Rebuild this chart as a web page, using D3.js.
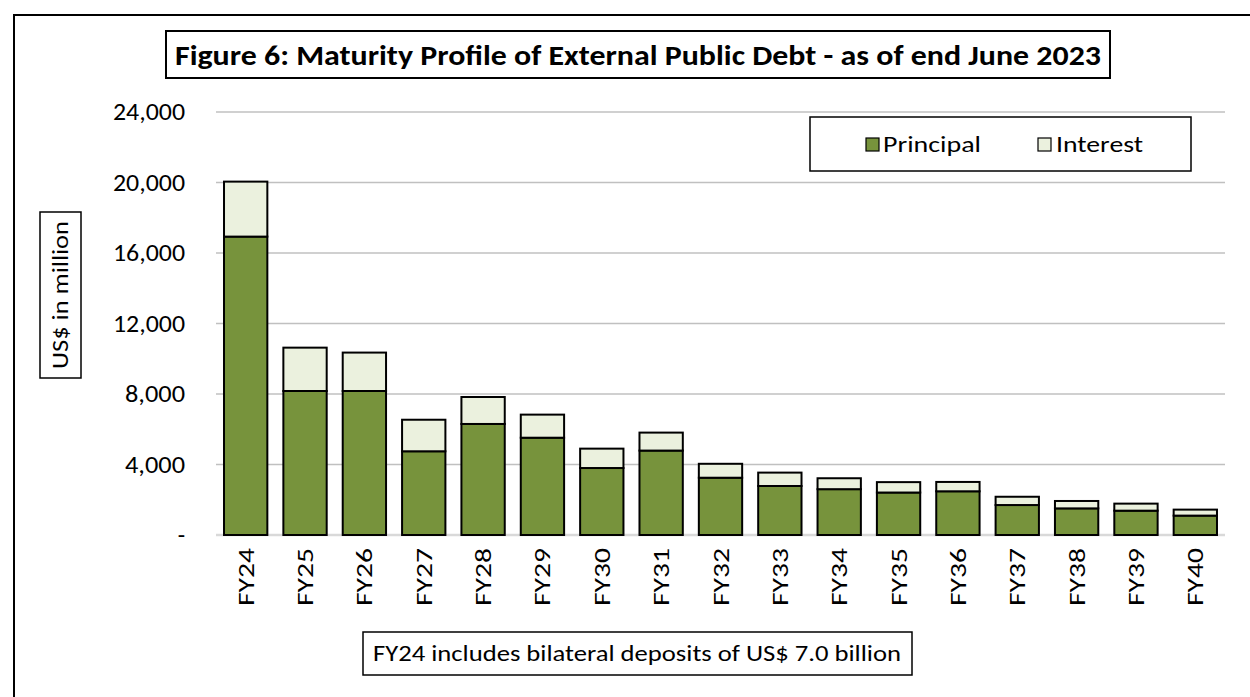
<!DOCTYPE html>
<html>
<head>
<meta charset="utf-8">
<script src="https://cdn.jsdelivr.net/npm/d3@7"></script>
<style>
  body { margin: 0; background: #fff; }
  text { font-family: Carlito, Calibri, "Open Sans", "Noto Sans", sans-serif; fill: #000; }
</style>
</head>
<body>
<script>
// values (US$ million)
const years = ["FY24", "FY25", "FY26", "FY27", "FY28", "FY29", "FY30", "FY31", "FY32",
  "FY33", "FY34", "FY35", "FY36", "FY37", "FY38", "FY39", "FY40"];
const principal = [16930, 8170, 8170, 4750, 6300, 5520, 3800, 4790, 3250,
  2780, 2600, 2410, 2480, 1700, 1510, 1380, 1100];
const interest = [3120, 2460, 2180, 1790, 1530, 1310, 1100, 1020, 790,
  760, 620, 590, 530, 470, 420, 400, 340];
const yTicks = [0, 4000, 8000, 12000, 16000, 20000, 24000];

const width = 1250;
const height = 697;
const colors = { Principal: "#77933c", Interest: "#ebf1de" };

const svg = d3.select("body").append("svg")
  .attr("width", width)
  .attr("height", height);

// outer frame (top + left edges visible)
svg.append("path")
  .attr("d", "M14,697 L14,15 L1252,15")
  .attr("fill", "none")
  .attr("stroke", "#000")
  .attr("stroke-width", 2);

const x = d3.scaleBand()
  .domain(years)
  .range([216, 1225])
  .paddingInner(0.27)
  .paddingOuter(0.135);

const y = d3.scaleLinear()
  .domain([0, 24000])
  .range([535, 112]);

// gridlines
svg.append("g")
  .selectAll("line")
  .data(yTicks)
  .enter()
  .append("line")
  .attr("x1", 216)
  .attr("x2", 1225)
  .attr("y1", (d) => y(d))
  .attr("y2", (d) => y(d))
  .attr("stroke", (d) => (d === 0 ? "#d9d9d9" : "#c0c0c0"))
  .attr("stroke-width", (d) => (d === 0 ? 2.5 : 1.5));

// y tick labels
svg.append("g")
  .selectAll("text")
  .data(yTicks)
  .enter()
  .append("text")
  .attr("x", 185)
  .attr("y", (d) => y(d) + 8)
  .attr("text-anchor", "end")
  .attr("textLength", (d) => (d === 0 ? null : d >= 10000 ? 72 : 60))
  .attr("lengthAdjust", "spacingAndGlyphs")
  .style("font-size", "24px")
  .text((d) => (d === 0 ? "-" : d3.format(",")(d)));

// stacked bars
const rows = years.map((yr, i) => ({ year: yr, Principal: principal[i], Interest: interest[i] }));
const stack = d3.stack().keys(["Principal", "Interest"])(rows);

svg.append("g")
  .selectAll("g")
  .data(stack)
  .enter()
  .append("g")
  .attr("fill", (d) => colors[d.key])
  .selectAll("rect")
  .data((d) => d)
  .enter()
  .append("rect")
  .attr("x", (d) => x(d.data.year))
  .attr("width", x.bandwidth())
  .attr("y", (d) => y(d[1]))
  .attr("height", (d) => y(d[0]) - y(d[1]))
  .attr("stroke", "#000")
  .attr("stroke-width", 2);

// x labels, rotated
svg.append("g")
  .selectAll("text")
  .data(years)
  .enter()
  .append("text")
  .attr("transform", (d) => `translate(${x(d) + x.bandwidth() / 2 + 8},548) rotate(-90)`)
  .attr("text-anchor", "end")
  .attr("textLength", 58)
  .attr("lengthAdjust", "spacingAndGlyphs")
  .style("font-size", "23px")
  .text((d) => d);

// title box
svg.append("rect")
  .attr("x", 166).attr("y", 31)
  .attr("width", 944).attr("height", 47)
  .attr("fill", "#fff").attr("stroke", "#000").attr("stroke-width", 2);
svg.append("text")
  .attr("x", 638).attr("y", 65)
  .attr("text-anchor", "middle")
  .attr("textLength", 926)
  .attr("lengthAdjust", "spacingAndGlyphs")
  .style("font-size", "29px")
  .style("font-weight", "bold")
  .text("Figure 6: Maturity Profile of External Public Debt - as of end June 2023");

// y axis title box
svg.append("rect")
  .attr("x", 40).attr("y", 212)
  .attr("width", 41).attr("height", 166)
  .attr("fill", "#fff").attr("stroke", "#000").attr("stroke-width", 1.5);
svg.append("text")
  .attr("transform", "translate(68,295) rotate(-90)")
  .attr("text-anchor", "middle")
  .attr("textLength", 148)
  .attr("lengthAdjust", "spacingAndGlyphs")
  .style("font-size", "23px")
  .text("US$ in million");

// legend
svg.append("rect")
  .attr("x", 810).attr("y", 117)
  .attr("width", 381).attr("height", 54)
  .attr("fill", "#fff").attr("stroke", "#000").attr("stroke-width", 1.5);
const legendItems = [
  { key: "Principal", x: 866, tx: 883, w: 98 },
  { key: "Interest", x: 1038, tx: 1056, w: 87 }
];
const legend = svg.append("g")
  .selectAll("g")
  .data(legendItems)
  .enter()
  .append("g");
legend.append("rect")
  .attr("x", (d) => d.x).attr("y", 138)
  .attr("width", 13).attr("height", 13)
  .attr("fill", (d) => colors[d.key])
  .attr("stroke", "#000").attr("stroke-width", 1.2);
legend.append("text")
  .attr("x", (d) => d.tx).attr("y", 152)
  .attr("textLength", (d) => d.w)
  .attr("lengthAdjust", "spacingAndGlyphs")
  .style("font-size", "23px")
  .text((d) => d.key);

// footnote box
svg.append("rect")
  .attr("x", 363).attr("y", 632)
  .attr("width", 549).attr("height", 43)
  .attr("fill", "#fff").attr("stroke", "#000").attr("stroke-width", 1.5);
svg.append("text")
  .attr("x", 637).attr("y", 661)
  .attr("text-anchor", "middle")
  .attr("textLength", 528)
  .attr("lengthAdjust", "spacingAndGlyphs")
  .style("font-size", "23px")
  .text("FY24 includes bilateral deposits of US$ 7.0 billion");
</script>
</body>
</html>
